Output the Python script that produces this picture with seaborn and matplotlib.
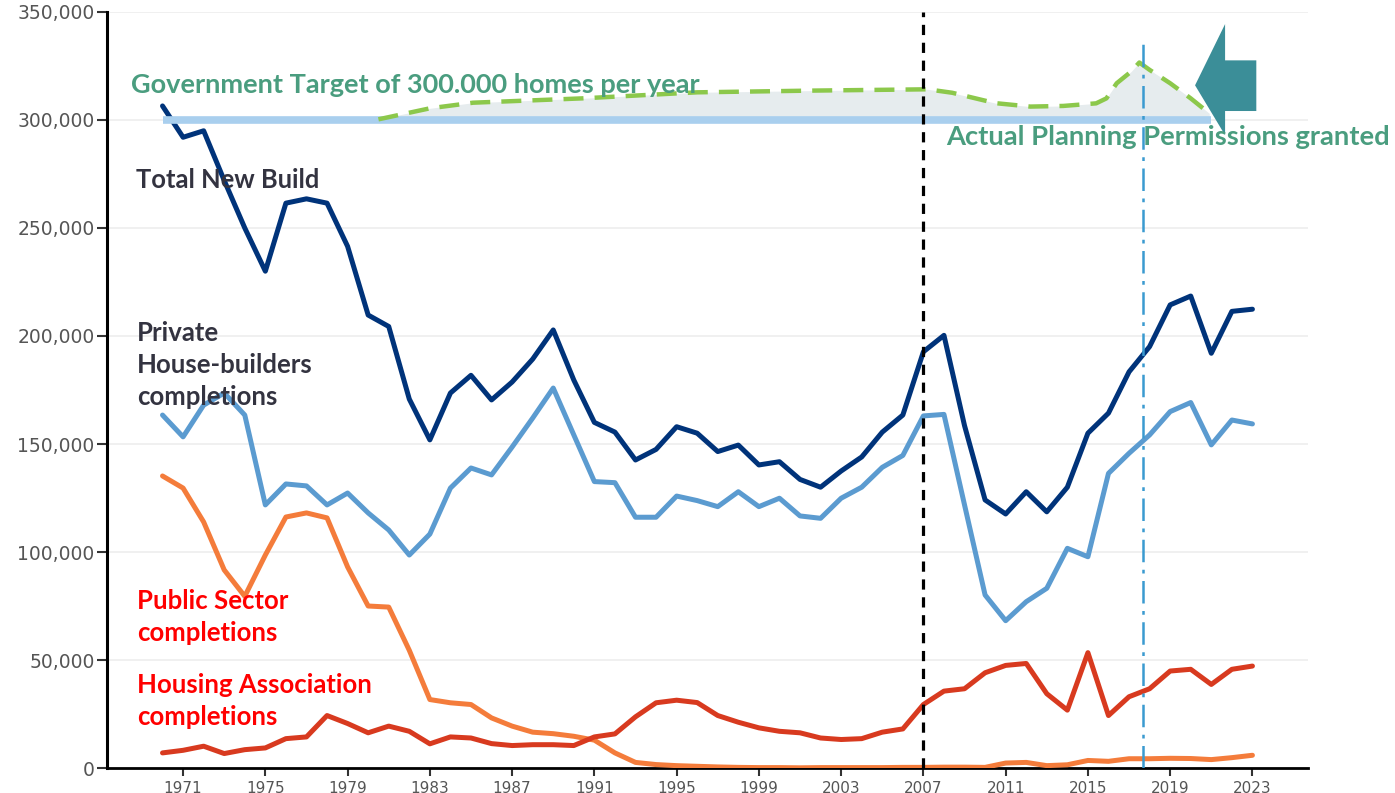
import matplotlib
matplotlib.use("Agg")
import matplotlib.pyplot as plt
import matplotlib.ticker as mticker
from matplotlib.patches import Polygon
import numpy as np
import pandas as pd
import seaborn as sns

# House building completions, England, 1970-2023
years = list(range(1970, 2024))

total_new_build = [
    306500, 292000, 295000, 272000, 250000, 230000, 261500, 263500, 261500, 241500,
    209700, 204400, 170800, 151900, 173600, 181800, 170400, 178700, 189300, 202800,
    179600, 160000, 155500, 142600, 147500, 158000, 155000, 146500, 149500, 140300,
    141800, 133600, 130000, 137500, 144000, 155500, 163400, 192700, 200300, 158500,
    124100, 117600, 127900, 118600, 130000, 155000, 164300, 183400, 195100, 214400,
    218500, 192000, 211400, 212400,
]
private_builders = [
    163400, 153300, 168000, 173600, 163400, 121800, 131500, 130600, 121800, 127300,
    118100, 110200, 98600, 108300, 129600, 138900, 135700, 148600, 162000, 175900,
    154200, 132600, 132100, 116100, 116100, 125900, 123800, 121000, 127900, 121000,
    124900, 116700, 115600, 124900, 130000, 139200, 144700, 163000, 163700, 121800,
    80100, 68200, 77000, 83200, 101700, 97800, 136400, 145700, 154200, 165000,
    169200, 149600, 161100, 159300,
]
public_sector = [
    135200, 129600, 113900, 91700, 79500, 98600, 116200, 118100, 115800, 93100,
    75000, 74500, 54500, 31700, 30200, 29400, 23200, 19400, 16600, 15900,
    14700, 12900, 7000, 2600, 1600, 1100, 800, 500, 300, 200,
    200, 100, 200, 200, 200, 200, 300, 300, 400, 400,
    300, 2300, 2600, 1100, 1500, 3500, 3100, 4300, 4300, 4500,
    4400, 3900, 4800, 5900,
]
housing_association = [
    7000, 8200, 10100, 6700, 8500, 9300, 13600, 14400, 24300, 20600,
    16300, 19400, 17000, 11200, 14400, 13900, 11300, 10400, 10800, 10800,
    10400, 14400, 15800, 23700, 30200, 31400, 30300, 24300, 21200, 18600,
    17000, 16300, 13900, 13200, 13600, 16600, 18100, 29400, 35600, 36700,
    44100, 47500, 48400, 34400, 26800, 53400, 24300, 33000, 36700, 44900,
    45700, 38700, 45700, 47200,
]

# planning permissions granted (dashed curve) vs the 300,000 target
permission_years = [1980.5, 1983.0, 1985.1, 1990.4, 1996.0, 2001.6, 2007.2, 2008.4,
                    2010.5, 2012.2, 2013.8, 2015.4, 2015.9, 2016.4, 2017.1, 2017.5,
                    2018.0, 2019.0, 2020.0, 2020.9]
permissions = [300300, 305400, 308000, 310000, 312800, 313600, 314200, 312600,
               307800, 306200, 306500, 307700, 310000, 317000, 322400, 326600,
               323200, 317000, 310000, 303100]
target = 300000
target_start, target_end = 1970, 2021

x_ticks = list(range(1971, 2024, 4))
y_ticks = list(range(0, 350001, 50000))

series_names = ["Total New Build", "Private", "Public", "Housing Association"]
series_colors = ["#00337a", "#5b9bd0", "#f47c3b", "#d83a1f"]

df = pd.DataFrame({
    "year": years,
    "Total New Build": total_new_build,
    "Private": private_builders,
    "Public": public_sector,
    "Housing Association": housing_association,
})
long_df = df.melt(id_vars="year", var_name="series", value_name="homes")

sns.set_theme(style="white")
plt.rcParams["font.family"] = ["DejaVu Sans"]

fig = plt.figure(figsize=(13.95, 7.93), dpi=100)
ax = fig.add_axes([0.0767, 0.0315, 0.8609, 0.9534])

# target band, permissions fill and dashed curve
ax.fill_between(permission_years, target, permissions, color="#e6ecee", zorder=1, lw=0)
sns.lineplot(data=long_df, x="year", y="homes", hue="series", hue_order=series_names,
             palette=series_colors, linewidth=3.6, legend=False, ax=ax, zorder=3)
ax.hlines(target, target_start, target_end, color="#a9cfee", linewidth=5.5, zorder=4)
ax.plot(permission_years, permissions, color="#8cc84b", linewidth=3.2,
        dashes=(4.5, 2.5), zorder=5)

# markers: financial crash and 2017
ax.axvline(2007, color="black", linewidth=2.3, dashes=(3.2, 2.4), zorder=6)
ax.axvline(2017.7, ymax=338000 / 350000, color="#3a9ad0", linewidth=1.8,
           dashes=(9, 3, 1.5, 3), zorder=6)

# big arrow pointing left at the gap
arrow = Polygon([(0.906, 0.903), (0.931, 0.984), (0.931, 0.936), (0.957, 0.936),
                 (0.957, 0.869), (0.931, 0.869), (0.931, 0.837)],
                closed=True, transform=ax.transAxes, facecolor="#3b8e98",
                edgecolor="none", clip_on=False, zorder=7)
ax.add_patch(arrow)

label_font = ["Lato", "DejaVu Sans"]
ax.text(1968.45, 316000, "Government Target of 300.000 homes per year", color="#4a9d7f",
        fontsize=19.5, fontweight="bold", family=label_font, va="center", ha="left", zorder=8)
ax.text(2008.1, 292000, "Actual Planning Permissions granted", color="#4a9d7f",
        fontsize=19.7, fontweight="bold", family=label_font, va="center", ha="left",
        clip_on=False, zorder=8)
ax.text(1968.7, 272200, "Total New Build", color="#333340", fontsize=18.4,
        fontweight="bold", family=label_font, va="center", ha="left")
ax.text(1968.75, 186600, "Private\nHouse-builders\ncompletions", color="#333340",
        fontsize=18.5, fontweight="bold", family=label_font, va="center", ha="left",
        linespacing=1.4)
ax.text(1968.75, 70100, "Public Sector\ncompletions", color="#ff0000", fontsize=18.5,
        fontweight="bold", family=label_font, va="center", ha="left", linespacing=1.4)
ax.text(1968.75, 31000, "Housing Association\ncompletions", color="#ff0000", fontsize=18.5,
        fontweight="bold", family=label_font, va="center", ha="left", linespacing=1.4)

# axes styling
ax.set_xlim(1967.3, 2025.7)
ax.set_ylim(0, 350000)
ax.set_xticks(x_ticks)
ax.set_yticks(y_ticks)
ax.yaxis.set_major_formatter(mticker.FuncFormatter(lambda v, p: f"{int(v):,}"))
ax.set_xlabel("")
ax.set_ylabel("")
ax.yaxis.grid(True, color="#eeeeee", linewidth=1.2)
ax.set_axisbelow(True)
for side in ["top", "right"]:
    ax.spines[side].set_visible(False)
ax.spines["left"].set_linewidth(2.2)
ax.spines["left"].set_color("black")
ax.spines["bottom"].set_linewidth(2.0)
ax.spines["bottom"].set_color("black")
ax.tick_params(axis="y", length=7, width=1.5, color="#333333", labelcolor="#555555",
               labelsize=13.5, pad=2, left=True)
ax.tick_params(axis="x", length=6, width=1.5, color="#333333", labelcolor="#555555",
               labelsize=11, pad=3, bottom=True)

fig.savefig("out.png", dpi=100)
